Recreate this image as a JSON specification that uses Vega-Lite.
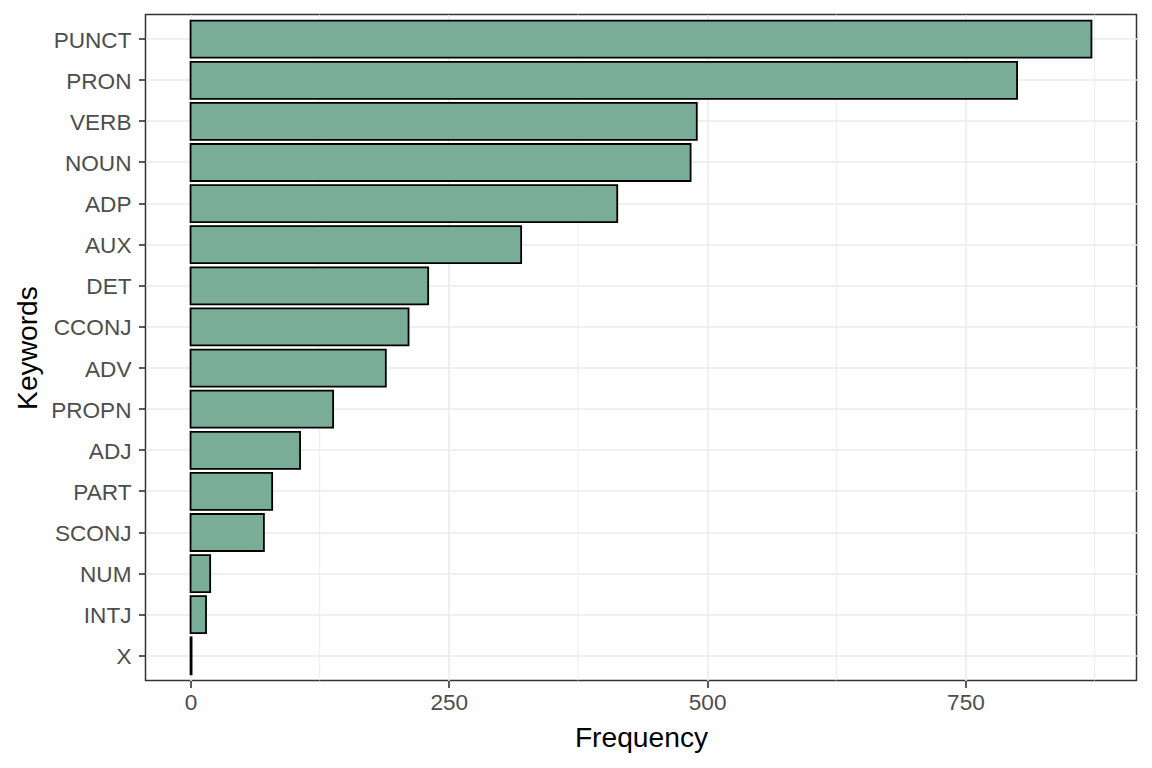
{
  "$schema": "https://vega.github.io/schema/vega-lite/v6.json",
  "autosize": {"type": "none"},
  "width": 991,
  "height": 666,
  "padding": {"left": 145.5, "top": 14.5, "right": 15.5, "bottom": 87.5},
  "background": "white",
  "config": {
    "font": "Liberation Sans",
    "view": {"stroke": "#333333", "strokeWidth": 1.5},
    "axis": {
      "gridColor": "#EBEBEB",
      "gridWidth": 1.6,
      "domain": false,
      "tickColor": "#333333",
      "tickWidth": 1.6,
      "tickSize": 7,
      "labelColor": "#4D4D4D",
      "labelFontSize": 22.6,
      "labelFont": "Liberation Sans",
      "titleFont": "Liberation Sans",
      "titleFontSize": 28.2,
      "titleFontWeight": "normal",
      "titleColor": "#000000"
    }
  },
  "datasets": {
    "pos": [
      {"upos": "PUNCT", "freq": 872},
      {"upos": "PRON", "freq": 800},
      {"upos": "VERB", "freq": 490},
      {"upos": "NOUN", "freq": 484},
      {"upos": "ADP", "freq": 413},
      {"upos": "AUX", "freq": 320},
      {"upos": "DET", "freq": 230},
      {"upos": "CCONJ", "freq": 211},
      {"upos": "ADV", "freq": 189},
      {"upos": "PROPN", "freq": 138},
      {"upos": "ADJ", "freq": 106},
      {"upos": "PART", "freq": 79},
      {"upos": "SCONJ", "freq": 71},
      {"upos": "NUM", "freq": 19},
      {"upos": "INTJ", "freq": 15},
      {"upos": "X", "freq": 1}
    ],
    "minor": [
      {"v": 125}, {"v": 375}, {"v": 625}, {"v": 875}
    ]
  },
  "layer": [
    {
      "data": {"name": "minor"},
      "mark": {"type": "rule", "color": "#EBEBEB", "strokeWidth": 0.9},
      "encoding": {
        "x": {"field": "v", "type": "quantitative", "scale": {"domain": [-43.6, 915.6], "nice": false, "zero": false}}
      }
    },
    {
      "data": {"name": "pos"},
      "mark": {"type": "bar", "fill": "#79AD97", "stroke": "#000000", "strokeWidth": 1.8},
      "encoding": {
        "y": {
          "field": "upos",
          "type": "nominal",
          "sort": {"field": "freq", "order": "descending"},
          "scale": {"paddingInner": 0.1, "paddingOuter": 0.15},
          "axis": {
            "title": "Keywords",
            "labelPadding": 7.5,
            "labelOffset": 1.5,
            "bandPosition": 0.5,
            "grid": true,
            "titleX": -109,
            "titleBaseline": "alphabetic",
            "titleAngle": -90
          }
        },
        "x": {
          "field": "freq",
          "type": "quantitative",
          "scale": {"domain": [-43.6, 915.6], "nice": false, "zero": false},
          "axis": {
            "title": "Frequency",
            "values": [0, 250, 500, 750],
            "labelPadding": 4,
            "grid": true,
            "titleY": 66,
            "titleBaseline": "alphabetic"
          }
        }
      }
    }
  ]
}
